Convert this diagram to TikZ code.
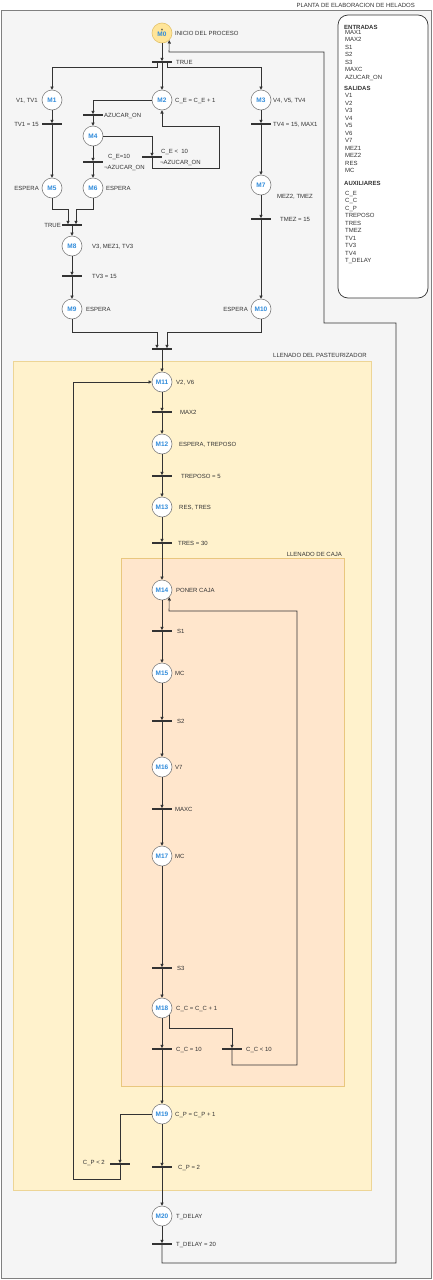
\documentclass[tikz,border=0pt]{standalone}
\usepackage{fontspec}
\setmainfont{Liberation Sans}
\usepackage{tikz}
\usetikzlibrary{arrows.meta}
\definecolor{fondo}{HTML}{F5F5F5}
\definecolor{borde}{HTML}{808080}
\definecolor{linea}{HTML}{333333}
\definecolor{azulm}{HTML}{2F8BDB}
\definecolor{amarm}{HTML}{FFE599}
\definecolor{amarb}{HTML}{E3C26B}
\definecolor{pastf}{HTML}{FFF2CC}
\definecolor{pastb}{HTML}{EDD596}
\definecolor{cajaf}{HTML}{FFE6CC}
\definecolor{cajab}{HTML}{E9C77E}

\begin{document}
\begin{tikzpicture}[x=1pt, y=-1pt,
    >={Triangle[length=3.2pt,width=3.2pt]},
    lugar/.style={circle, draw=borde, fill=white, line width=0.6pt, minimum size=20pt, inner sep=0pt, text=azulm, font=\fontsize{6.5}{7}\selectfont\bfseries},
    trans/.style={rectangle, fill=linea, minimum width=20pt, minimum height=1.6pt, inner sep=0pt},
    txt/.style={inner sep=0pt, text height=4.3pt, text depth=0pt, text=linea, font=\fontsize{6}{7.5}\selectfont},
    lista/.style={inner sep=0pt, align=left, text=linea, font=\fontsize{6}{7.5}\selectfont},
    flecha/.style={->, draw=linea, line width=0.6pt}]
    \useasboundingbox (0,0) rectangle (433,1280);
    \draw [fill=fondo, draw=borde, line width=0.8pt] (1.5,10.5) rectangle (431.5,1278.5);
    \draw [fill=pastf, draw=pastb, line width=0.8pt] (13,361) rectangle (371,1190);
    \draw [fill=cajaf, draw=cajab, line width=0.8pt] (121,558) rectangle (344,1086);
    \draw [fill=white, draw=linea, line width=0.7pt, rounded corners=10pt] (338,15) rectangle (428,298);

    \node [txt, anchor=east] (titulo) at (415,5) {PLANTA DE ELABORACION DE HELADOS};
    \node [txt, anchor=east] (pasteur) at (367,355) {LLENADO DEL PASTEURIZADOR};
    \node [txt, anchor=east] (caja) at (342,554) {LLENADO DE CAJA};

    \node [txt, anchor=west, font=\fontsize{6}{7.5}\selectfont\bfseries] (ent) at (344,27) {ENTRADAS};
    \node [lista, anchor=north west] (lent) at (345,29.9) {MAX1\\MAX2\\S1\\S2\\S3\\MAXC\\AZUCAR\_ON};
    \node [txt, anchor=west, font=\fontsize{6}{7.5}\selectfont\bfseries] (sal) at (344,88.5) {SALIDAS};
    \node [lista, anchor=north west] (lsal) at (345,93.4) {V1\\V2\\V3\\V4\\V5\\V6\\V7\\MEZ1\\MEZ2\\RES\\MC};
    \node [txt, anchor=west, font=\fontsize{6}{7.5}\selectfont\bfseries] (aux) at (344,183) {AUXILIARES};
    \node [lista, anchor=north west] (laux) at (345,190.9) {C\_E\\C\_C\\C\_P\\TREPOSO\\TRES\\TMEZ\\TV1\\TV3\\TV4\\T\_DELAY};

    \node [lugar, fill=amarm, draw=amarb, align=center] (m0) at (162,33) {\textcolor{linea}{\fontsize{5}{5}\selectfont *}\\[-2.5pt]M0};
    \node [lugar] (m1) at (52,100) {M1};
    \node [lugar] (m2) at (162,100) {M2};
    \node [lugar] (m3) at (261,100) {M3};
    \node [lugar] (m4) at (93,136) {M4};
    \node [lugar] (m5) at (52,188) {M5};
    \node [lugar] (m6) at (93,188) {M6};
    \node [lugar] (m7) at (261,185) {M7};
    \node [lugar] (m8) at (72,246) {M8};
    \node [lugar] (m9) at (72,309) {M9};
    \node [lugar] (m10) at (261,309) {M10};
    \node [lugar] (m11) at (162,382) {M11};
    \node [lugar] (m12) at (162,444) {M12};
    \node [lugar] (m13) at (162,507) {M13};
    \node [lugar] (m14) at (162,590) {M14};
    \node [lugar] (m15) at (162,673) {M15};
    \node [lugar] (m16) at (162,767) {M16};
    \node [lugar] (m17) at (162,856) {M17};
    \node [lugar] (m18) at (162,1008) {M18};
    \node [lugar] (m19) at (162,1114) {M19};
    \node [lugar] (m20) at (162,1216) {M20};

    \node [trans] (t0) at (162,62) {};
    \node [trans] (t1) at (52,124) {};
    \node [trans] (t2) at (93,115) {};
    \node [trans] (t3) at (93,162) {};
    \node [trans] (t4) at (152,157) {};
    \node [trans] (t5) at (72,225) {};
    \node [trans] (t6) at (72,276) {};
    \node [trans] (t7) at (162,349) {};
    \node [trans] (t8) at (261,124) {};
    \node [trans] (t9) at (261,219) {};
    \node [trans] (t10) at (162,412) {};
    \node [trans] (t11) at (162,476) {};
    \node [trans] (t12) at (162,543) {};
    \node [trans] (t13) at (162,631) {};
    \node [trans] (t14) at (162,721) {};
    \node [trans] (t15) at (162,809) {};
    \node [trans] (t16) at (162,968) {};
    \node [trans] (t17) at (162,1049) {};
    \node [trans] (t18) at (232,1049) {};
    \node [trans] (t19) at (120,1164) {};
    \node [trans] (t20) at (162,1167) {};
    \node [trans] (t21) at (162,1244) {};

    \node [txt, anchor=west] (l0) at (175,33) {INICIO DEL PROCESO};
    \node [txt, anchor=east] (l1) at (38,100) {V1, TV1};
    \node [txt, anchor=west] (l2) at (175,100) {C\_E = C\_E + 1};
    \node [txt, anchor=west] (l3) at (273,100) {V4, V5, TV4};
    \node [txt, anchor=east] (l5) at (39,188) {ESPERA};
    \node [txt, anchor=west] (l6) at (106,188) {ESPERA};
    \node [txt, anchor=west] (l7) at (277,196) {MEZ2, TMEZ};
    \node [txt, anchor=west] (l8) at (92,246) {V3, MEZ1, TV3};
    \node [txt, anchor=west] (l9) at (86,309) {ESPERA};
    \node [txt, anchor=east] (l10) at (248,309) {ESPERA};
    \node [txt, anchor=west] (l11) at (176,382) {V2, V6};
    \node [txt, anchor=west] (l12) at (179,444) {ESPERA, TREPOSO};
    \node [txt, anchor=west] (l13) at (179,507) {RES, TRES};
    \node [txt, anchor=west] (l14) at (176,590) {PONER CAJA};
    \node [txt, anchor=west] (l15) at (175,673) {MC};
    \node [txt, anchor=west] (l16) at (175,767) {V7};
    \node [txt, anchor=west] (l17) at (175,856) {MC};
    \node [txt, anchor=west] (l18) at (176,1008) {C\_C = C\_C + 1};
    \node [txt, anchor=west] (l19) at (175,1114) {C\_P = C\_P + 1};
    \node [txt, anchor=west] (l20) at (176,1216) {T\_DELAY};

    \node [txt, anchor=west] (k0) at (176,62) {TRUE};
    \node [txt, anchor=east] (k1) at (39,124) {TV1 = 15};
    \node [txt, anchor=west] (k2) at (104,115) {AZUCAR\_ON};
    \node [txt, anchor=west] (k3a) at (108,156.7) {C\_E=10};
    \node [txt, anchor=west] (k3b) at (104,167.3) {¬AZUCAR\_ON};
    \node [txt, anchor=west] (k4a) at (161,151.7) {C\_E <\ \ 10};
    \node [txt, anchor=west] (k4b) at (160,162.3) {¬AZUCAR\_ON};
    \node [txt, anchor=east] (k5) at (61,225) {TRUE};
    \node [txt, anchor=west] (k6) at (92,276) {TV3 = 15};
    \node [txt, anchor=west] (k8) at (273,124) {TV4 = 15, MAX1};
    \node [txt, anchor=west] (k9) at (280,219) {TMEZ = 15};
    \node [txt, anchor=west] (k10) at (180,412) {MAX2};
    \node [txt, anchor=west] (k11) at (181,476) {TREPOSO = 5};
    \node [txt, anchor=west] (k12) at (178,543) {TRES = 30};
    \node [txt, anchor=west] (k13) at (177,631) {S1};
    \node [txt, anchor=west] (k14) at (177,721) {S2};
    \node [txt, anchor=west] (k15) at (175,809) {MAXC};
    \node [txt, anchor=west] (k16) at (177,968) {S3};
    \node [txt, anchor=west] (k17) at (176,1049) {C\_C = 10};
    \node [txt, anchor=west] (k18) at (246,1049) {C\_C < 10};
    \node [txt, anchor=east] (k19) at (105,1162) {C\_P < 2};
    \node [txt, anchor=west] (k20) at (178,1167) {C\_P = 2};
    \node [txt, anchor=west] (k21) at (176,1244) {T\_DELAY = 20};

    \coordinate (r1) at (219,168);
    \coordinate (r2) at (219,126);
    \coordinate (j1) at (68,209);
    \coordinate (j2) at (76,209);
    \coordinate (j3) at (157,332);
    \coordinate (j4) at (167,332);
    \coordinate (c1) at (232,1028);
    \coordinate (c2) at (297,1065);
    \coordinate (c3) at (169,611);
    \coordinate (c4) at (73,1179);
    \coordinate (c5) at (396,1263);
    \coordinate (c6) at (324,323);
    \coordinate (c7) at (169,52);

    \draw [flecha] (m0) -- (t0);
    \draw [flecha] (t0) -- (m2);
    \draw [flecha] ([xshift=-5pt]t0.south) -- ++(0,4) -| (m1);
    \draw [flecha] ([xshift=5pt]t0.south) -- ++(0,4) -| (m3);
    \draw [flecha] (m1) -- (t1);
    \draw [flecha] (t1) -- (m5);
    \draw [flecha] (m2) -| (t2);
    \draw [flecha] (t2) -- (m4);
    \draw [flecha] (m4) -- (t3);
    \draw [flecha] (t3) -- (m6);
    \draw [flecha] (m4) -| (t4);
    \draw [flecha] (t4) |- (r1) -- (r2) -| (m2);
    \draw [flecha] (m5) |- (j1) -- (j1 |- t5.north);
    \draw [flecha] (m6) |- (j2) -- (j2 |- t5.north);
    \draw [flecha] (t5) -- (m8);
    \draw [flecha] (m8) -- (t6);
    \draw [flecha] (t6) -- (m9);
    \draw [flecha] (m3) -- (t8);
    \draw [flecha] (t8) -- (m7);
    \draw [flecha] (m7) -- (t9);
    \draw [flecha] (t9) -- (m10);
    \draw [flecha] (m9) |- (j3) -- (j3 |- t7.north);
    \draw [flecha] (m10) |- (j4) -- (j4 |- t7.north);
    \draw [flecha] (t7) -- (m11);
    \draw [flecha] (m11) -- (t10);
    \draw [flecha] (t10) -- (m12);
    \draw [flecha] (m12) -- (t11);
    \draw [flecha] (t11) -- (m13);
    \draw [flecha] (m13) -- (t12);
    \draw [flecha] (t12) -- (m14);
    \draw [flecha] (m14) -- (t13);
    \draw [flecha] (t13) -- (m15);
    \draw [flecha] (m15) -- (t14);
    \draw [flecha] (t14) -- (m16);
    \draw [flecha] (m16) -- (t15);
    \draw [flecha] (t15) -- (m17);
    \draw [flecha] (m17) -- (t16);
    \draw [flecha] (t16) -- (m18);
    \draw [flecha] (m18) -- (t17);
    \draw [flecha] (t17) -- (m19);
    \draw [flecha] (m18.-45) |- (c1) -- (t18);
    \draw [flecha] (t18) |- (c2) |- (c3) -- (m14.-45);
    \draw [flecha] (m19) -- (t20);
    \draw [flecha] (m19) -| (t19);
    \draw [flecha] (t19) |- (c4) |- (m11);
    \draw [flecha] (t20) -- (m20);
    \draw [flecha] (m20) -- (t21);
    \draw [flecha] (t21) |- (c5) |- (c6) |- (c7) -- (m0.-45);
\end{tikzpicture}
\end{document}
